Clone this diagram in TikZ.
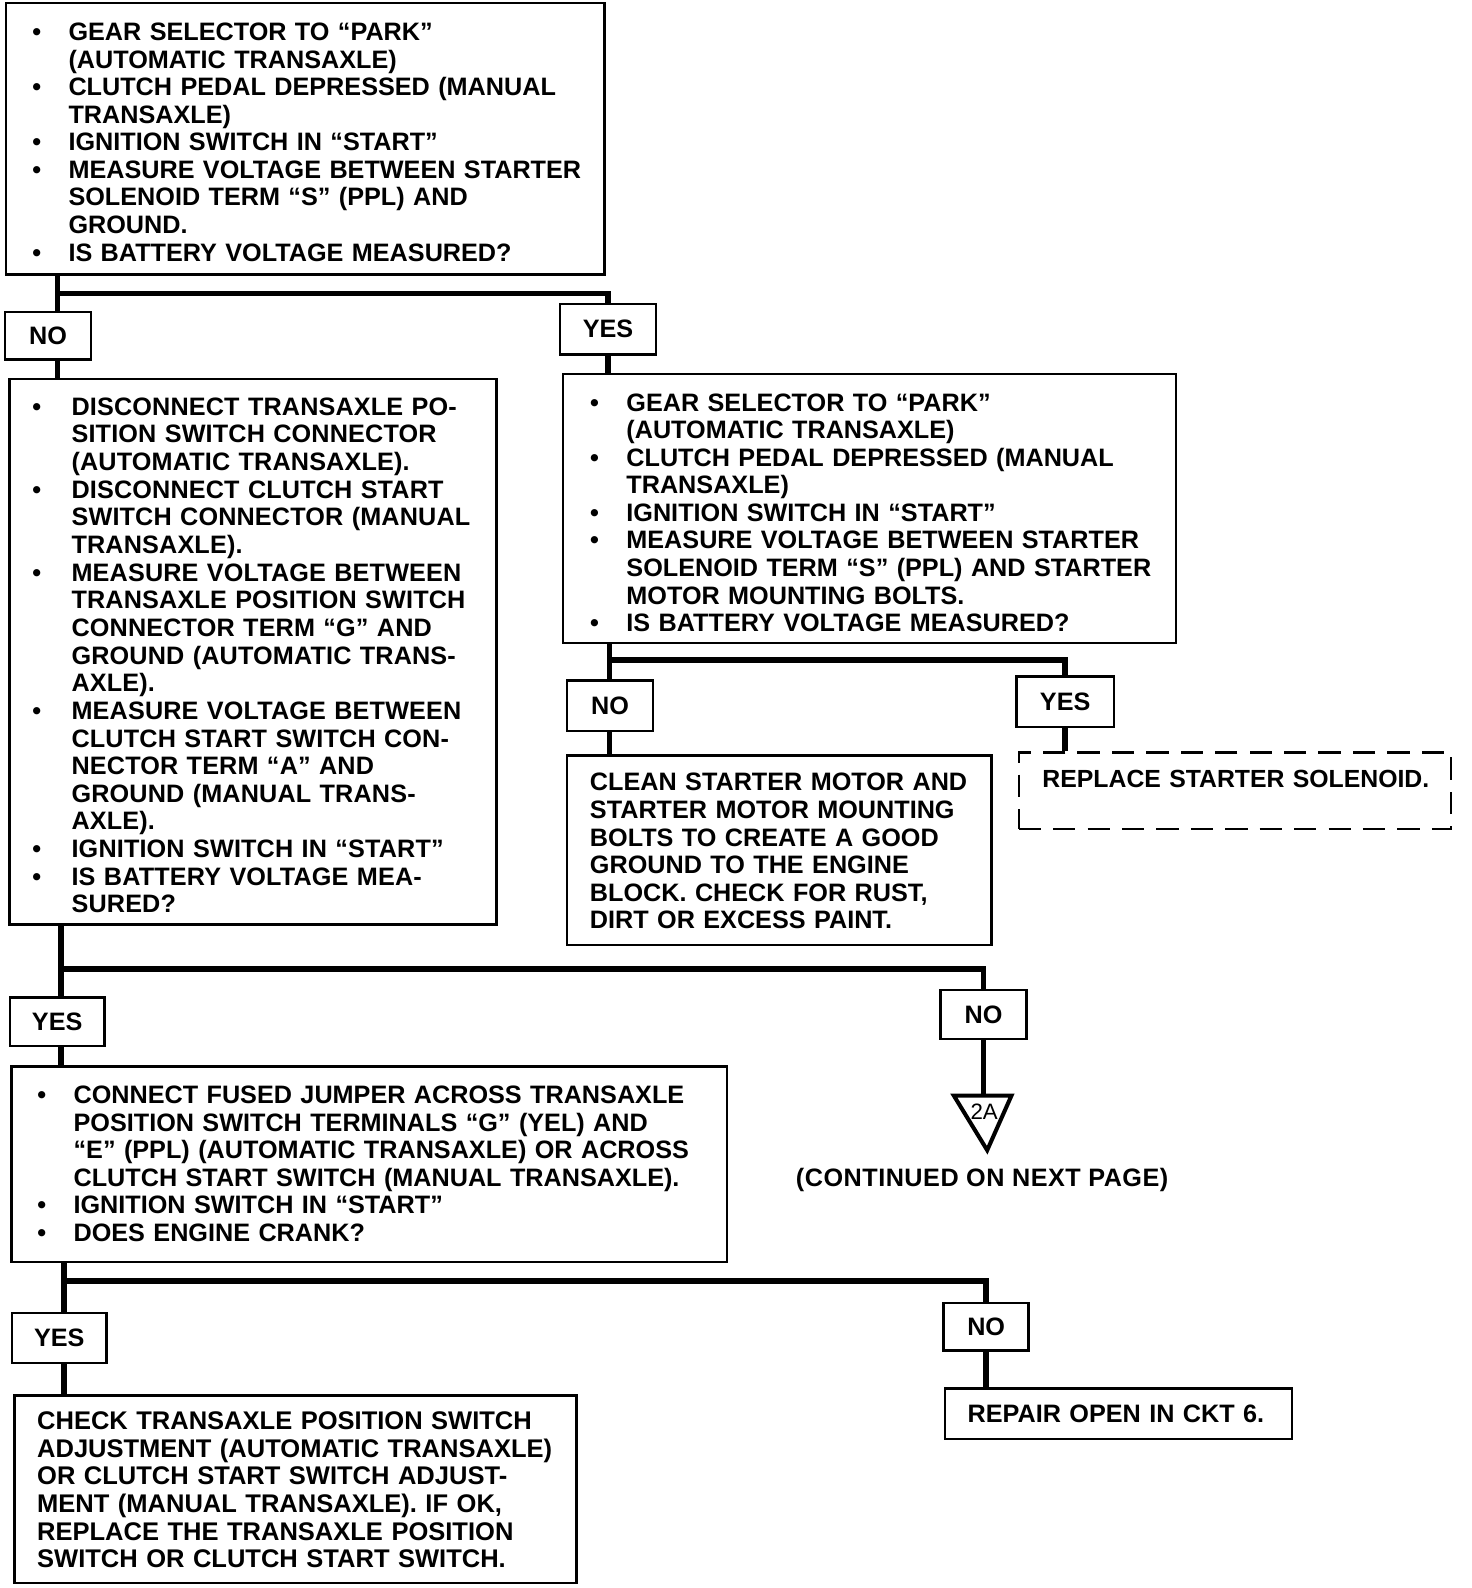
\documentclass[tikz,border=0pt]{standalone}
\usepackage{fontspec}
\setmainfont{Liberation Sans}
\newenvironment{btab}[1]{\begin{tabular}[t]{@{}p{#1}@{}l@{}}}{\end{tabular}}
\newenvironment{ptab}{\begin{tabular}[t]{@{}l@{}}}{\end{tabular}}
\newcommand\bl{\textbullet}
\newcommand\txtfont{\bfseries\fontsize{24.9}{27.2}\selectfont}
\tikzset{
  conn/.style={line width=5.5pt, line join=miter},
  box/.style={draw, line width=2.4pt, anchor=north west, inner ysep=0pt, align=left, fill=white, font=\txtfont},
  dbox/.style={box, dash pattern=on 22pt off 12pt, line width=2.2pt},
  yn/.style={draw, line width=2.4pt, fill=white, inner sep=0pt, font=\txtfont},
  triline/.style={line width=4pt, line join=miter}
}
\begin{document}
\begin{tikzpicture}[x=1pt,y=-1pt]
\fill[white] (0,0) rectangle (1453.8,1568.4);
\useasboundingbox (0,0) rectangle (1453.8,1568.4);

% ---- boxes
\node[box, text width=539.6pt, inner xsep=25.7pt, text height=37pt, text depth=231pt] (b1) at (5,2) {\begin{btab}{35.8pt}
\bl & GEAR SELECTOR TO “PARK”\\
 & (AUTOMATIC TRANSAXLE)\\
\bl & CLUTCH PEDAL DEPRESSED (MANUAL\\
 & TRANSAXLE)\\
\bl & IGNITION SWITCH IN “START”\\
\bl & MEASURE VOLTAGE BETWEEN STARTER\\
 & SOLENOID TERM “S” (PPL) AND\\
 & GROUND.\\
\bl & IS BATTERY VOLTAGE MEASURED?
\end{btab}};

\node[yn, minimum width=85pt, minimum height=47pt] (no1) at (47.5,331.5) {NO};
\node[yn, minimum width=95pt, minimum height=50pt] (yes1) at (600.5,325) {YES};

\node[box, text width=435.6pt, inner xsep=22.7pt, text height=36pt, text depth=503pt, font=\bfseries\fontsize{24.9}{27.3}\selectfont\addfontfeature{LetterSpace=0.6}] (b2) at (8,373) {\begin{btab}{38.8pt}
\bl & DISCONNECT TRANSAXLE PO-\\
 & SITION SWITCH CONNECTOR\\
 & (AUTOMATIC TRANSAXLE).\\
\bl & DISCONNECT CLUTCH START\\
 & SWITCH CONNECTOR (MANUAL\\
 & TRANSAXLE).\\
\bl & MEASURE VOLTAGE BETWEEN\\
 & TRANSAXLE POSITION SWITCH\\
 & CONNECTOR TERM “G” AND\\
 & GROUND (AUTOMATIC TRANS-\\
 & AXLE).\\
\bl & MEASURE VOLTAGE BETWEEN\\
 & CLUTCH START SWITCH CON-\\
 & NECTOR TERM “A” AND\\
 & GROUND (MANUAL TRANS-\\
 & AXLE).\\
\bl & IGNITION SWITCH IN “START”\\
\bl & IS BATTERY VOLTAGE MEA-\\
 & SURED?
\end{btab}};

\node[box, text width=551.6pt, inner xsep=26.7pt, text height=37pt, text depth=229pt] (b3) at (555,368) {\begin{btab}{35.8pt}
\bl & GEAR SELECTOR TO “PARK”\\
 & (AUTOMATIC TRANSAXLE)\\
\bl & CLUTCH PEDAL DEPRESSED (MANUAL\\
 & TRANSAXLE)\\
\bl & IGNITION SWITCH IN “START”\\
\bl & MEASURE VOLTAGE BETWEEN STARTER\\
 & SOLENOID TERM “S” (PPL) AND STARTER\\
 & MOTOR MOUNTING BOLTS.\\
\bl & IS BATTERY VOLTAGE MEASURED?
\end{btab}};

\node[yn, minimum width=85pt, minimum height=50pt] (no2) at (602.5,697) {NO};
\node[yn, minimum width=96pt, minimum height=50pt] (yes2) at (1052,693) {YES};

\node[box, text width=374pt, inner xsep=22.5pt, text height=35pt, text depth=152pt] (b4) at (559,745) {\begin{ptab}
CLEAN STARTER MOTOR AND\\
STARTER MOTOR MOUNTING\\
BOLTS TO CREATE A GOOD\\
GROUND TO THE ENGINE\\
BLOCK. CHECK FOR RUST,\\
DIRT OR EXCESS PAINT.
\end{ptab}};

\node[dbox, text width=380pt, inner xsep=23.5pt, text height=35pt, text depth=41pt, font=\bfseries\fontsize{24.5}{27.2}\selectfont] (rss) at (1005,742) {\mbox{REPLACE STARTER SOLENOID.}};

\node[yn, minimum width=93pt, minimum height=48pt] (yes3) at (56.5,1009) {YES};
\node[yn, minimum width=85pt, minimum height=48pt] (no3) at (971.5,1002) {NO};

% ---- off-page connector 2A
\coordinate (t2a) at (971.5,1082);
\draw[triline] (942,1082) -- (999,1082) -- (975,1136) -- cycle;
\node[font=\fontsize{22}{23}\selectfont, inner sep=0pt] (c2a) at (972,1098) {2A};
\node[font=\bfseries\fontsize{24.9}{26}\selectfont\addfontfeature{LetterSpace=2}, inner sep=0pt] (cont) at (970,1165) {(CONTINUED ON NEXT PAGE)};

\node[box, text width=655.6pt, inner xsep=25.7pt, text height=37pt, text depth=156pt] (b5) at (10,1052) {\begin{btab}{35.8pt}
\bl & CONNECT FUSED JUMPER ACROSS TRANSAXLE\\
 & POSITION SWITCH TERMINALS “G” (YEL) AND\\
 & “E” (PPL) (AUTOMATIC TRANSAXLE) OR ACROSS\\
 & CLUTCH START SWITCH (MANUAL TRANSAXLE).\\
\bl & IGNITION SWITCH IN “START”\\
\bl & DOES ENGINE CRANK?
\end{btab}};

\node[yn, minimum width=93pt, minimum height=49pt] (yes4) at (58.5,1321.5) {YES};
\node[yn, minimum width=84pt, minimum height=47pt] (no4) at (974,1310.5) {NO};

\node[box, text width=510pt, inner xsep=22.5pt, text height=34pt, text depth=151pt, font=\bfseries\fontsize{25.2}{27.2}\selectfont] (b6) at (13,1377) {\begin{ptab}
CHECK TRANSAXLE POSITION SWITCH\\
ADJUSTMENT (AUTOMATIC TRANSAXLE)\\
OR CLUTCH START SWITCH ADJUST-\\
MENT (MANUAL TRANSAXLE). IF OK,\\
REPLACE THE TRANSAXLE POSITION\\
SWITCH OR CLUTCH START SWITCH.
\end{ptab}};

\node[box, text width=298pt, inner xsep=22.5pt, text height=34pt, text depth=16pt] (b7) at (932,1370) {\mbox{REPAIR OPEN IN CKT 6.}};

% ---- junctions
\coordinate (j1) at (57,290);
\coordinate (j2) at (602,652);
\coordinate (j3) at (60,957);
\coordinate (j4) at (63,1265);

% ---- connectors
\draw[conn] (j1 |- b1.south) -- (j1 |- no1.north);
\draw[conn] (j1 |- no1.south) -- (j1 |- b2.north);
\draw[conn] (j1) -| (yes1.north);
\draw[conn] (yes1.south) -- (yes1.south |- b3.north);

\draw[conn] (j2 |- b3.south) -- (j2 |- no2.north);
\draw[conn] (j2 |- no2.south) -- (j2 |- b4.north);
\draw[conn] (j2) -| (yes2.north);
\draw[conn] (yes2.south) -- (yes2.south |- rss.north);

\draw[conn] (j3 |- b2.south) -- (j3 |- yes3.north);
\draw[conn] (j3 |- yes3.south) -- (j3 |- b5.north);
\draw[conn] (j3) -| (no3.north);
\draw[conn] (no3.south) -- (t2a);

\draw[conn] (j4 |- b5.south) -- (j4 |- yes4.north);
\draw[conn] (j4 |- yes4.south) -- (j4 |- b6.north);
\draw[conn] (j4) -| (no4.north);
\draw[conn] (no4.south) -- (no4.south |- b7.north);
\end{tikzpicture}
\end{document}
